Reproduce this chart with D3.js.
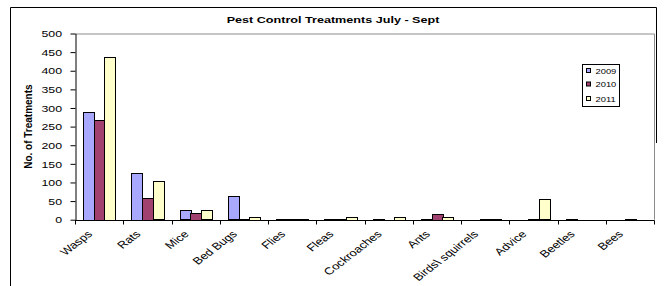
<!DOCTYPE html>
<html><head><meta charset="utf-8">
<script src="https://cdn.jsdelivr.net/npm/d3@7"></script>
<style>
body{margin:0;background:#fff}
text{font-family:"Liberation Sans",Arial,sans-serif;fill:#000}
</style>
</head><body><div id="c"></div>
<script>
// pest categories and treatment counts per year
var categories = ["Wasps", "Rats", "Mice", "Bed Bugs", "Flies", "Fleas", "Cockroaches", "Ants", "Birds\\ squirrels", "Advice", "Beetles", "Bees"];
var years = ["2009", "2010", "2011"];
var v2009 = [290, 125, 25, 63, 2, 2, 2, 2, 0, 0, 1, 0];
var v2010 = [268, 58, 18, 2, 2, 2, 0, 15, 1, 1, 0, 1];
var v2011 = [438, 103, 25, 7, 2, 8, 7, 7, 2, 55, 0, 0];
var yTicks = [0, 50, 100, 150, 200, 250, 300, 350, 400, 450, 500];
var colors = ["#a8a8ff", "#a1416f", "#ffffcc"];

var W = 664, H = 286;
var sx = 1.3; // the source image is stretched sideways
var plotL = 75, plotR = 654, plotT = 33.5, plotB = 219.7;

var svg = d3.select('#c').append('svg').attr('width', W).attr('height', H);

// outer chart border (left runs off the bottom, right stops half way)
svg.append('path')
  .attr('d', 'M10.5,290V7.5H656.5V143')
  .attr('fill', 'none').attr('stroke', '#000');

var x = d3.scaleBand().domain(categories).range([plotL, plotR]).padding(0);
var xs = d3.scaleBand().domain(years).range([0, x.bandwidth()]).paddingInner(0).paddingOuter(0.75);
var y = d3.scaleLinear().domain([0, 500]).range([plotB, plotT]);

// plot area frame, grey top and right
svg.append('path')
  .attr('d', 'M' + plotL + ',' + (plotT + 0.5) + 'H' + (plotR + 0.5) + 'V' + plotB)
  .attr('fill', 'none').attr('stroke', '#8c8c8c');

var series = [v2009, v2010, v2011];
var rows = [];
categories.forEach(function(c, i) {
  years.forEach(function(yr, k) {
    rows.push({cat: c, year: yr, k: k, v: series[k][i]});
  });
});

svg.append('g').selectAll('rect')
  .data(rows.filter(function(d) { return d.v > 0; }))
  .enter().append('rect')
  .attr('x', function(d) { return Math.round(x(d.cat) + xs(d.year)) + 0.5; })
  .attr('width', function(d) { return Math.round(xs.bandwidth()); })
  .attr('y', function(d) { return Math.round(y(d.v)) + 0.5; })
  .attr('height', function(d) { return Math.max(1, Math.round(plotB - y(d.v))); })
  .attr('fill', function(d) { return colors[d.k]; })
  .attr('stroke', '#000').attr('stroke-width', 1);

// y axis
var yAxis = svg.append('g')
  .attr('transform', 'translate(' + (plotL + 0.5) + ',0)')
  .call(d3.axisLeft(y).tickValues(yTicks).tickSize(5).tickSizeOuter(0));
yAxis.select('.domain').attr('stroke', '#000');
yAxis.selectAll('.tick line').attr('stroke', '#000');
yAxis.selectAll('.tick text')
  .attr('font-size', 9.5)
  .attr('font-family', '"Liberation Sans",Arial,sans-serif')
  .attr('x', -13.5 / sx)
  .attr('dy', '0.34em')
  .attr('transform', 'scale(' + sx + ',1)');

// x axis with ticks on the band edges
var xAxis = svg.append('g')
  .attr('transform', 'translate(0,' + (Math.round(plotB) + 0.5) + ')')
  .call(d3.axisBottom(x).tickSize(0).tickFormat(''));
xAxis.select('.domain').attr('stroke', '#000').attr('d', 'M' + plotL + ',0H' + (plotR + 0.5));
var edges = categories.map(function(c) { return x(c); }).concat([plotR]);
xAxis.selectAll('line.edge').data(edges).enter().append('line')
  .attr('class', 'edge')
  .attr('x1', function(d) { return Math.round(d) + 0.5; })
  .attr('x2', function(d) { return Math.round(d) + 0.5; })
  .attr('y1', 0).attr('y2', 4)
  .attr('stroke', '#000');

svg.append('g').selectAll('text')
  .data(categories).enter().append('text')
  .attr('transform', function(d) {
    return 'translate(' + (x(d) + x.bandwidth() / 2 - 6) + ',' + (plotB + 15) + ') scale(' + sx + ',1) rotate(-45)';
  })
  .attr('text-anchor', 'end')
  .attr('font-size', 10)
  .text(function(d) { return d; });

// titles
svg.append('text')
  .attr('transform', 'translate(333,22.5) scale(' + sx + ',1)')
  .attr('text-anchor', 'middle')
  .attr('font-size', 9.7).attr('font-weight', 'bold')
  .text('Pest Control Treatments July - Sept');

svg.append('text')
  .attr('transform', 'translate(31.5,' + ((plotT + plotB) / 2) + ') rotate(-90)')
  .attr('text-anchor', 'middle')
  .attr('font-size', 10).attr('font-weight', 'bold')
  .text('No. of Treatments');

// legend
var lg = svg.append('g').attr('transform', 'translate(582,64)');
lg.append('rect').attr('x', 0.5).attr('y', 0.5).attr('width', 37).attr('height', 42)
  .attr('fill', '#fff').attr('stroke', '#000');
var item = lg.selectAll('g.item').data(years).enter().append('g')
  .attr('class', 'item')
  .attr('transform', function(d, i) { return 'translate(0,' + [7, 20.5, 35][i] + ')'; });
item.append('rect')
  .attr('x', 4.5).attr('y', -2.5).attr('width', 4).attr('height', 4)
  .attr('fill', function(d, i) { return colors[i]; })
  .attr('stroke', '#000');
item.append('text')
  .attr('transform', 'translate(13.5,0) scale(1.2,1)')
  .attr('dy', '0.35em')
  .attr('font-size', 7.8)
  .text(function(d) { return d; });
</script></body></html>
